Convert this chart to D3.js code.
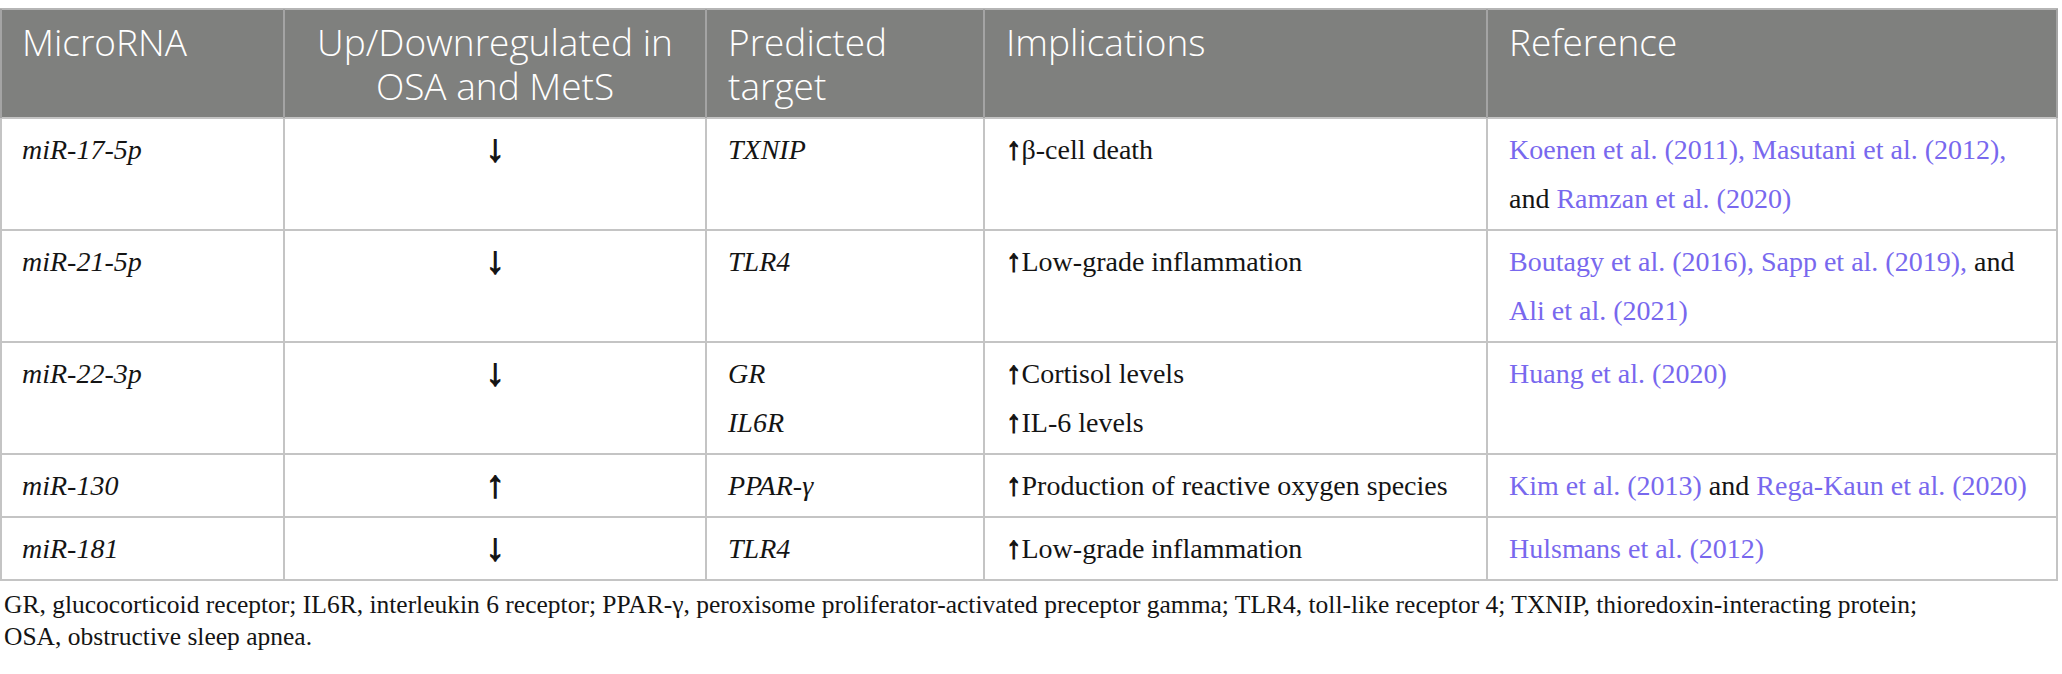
<!DOCTYPE html>
<html>
<head>
<meta charset="utf-8">
<title>MicroRNA table</title>
<script src="https://d3js.org/d3.v7.min.js"></script>
<style>
  body { margin: 0; background: #fff; }
  svg { display: block; }
  .head { font-family: "Open Sans", sans-serif; font-weight: 300; fill: #fff; }
  .cell { font-family: "Liberation Serif", serif; fill: #141414; }
  .link { fill: #7868ee; }
  .arrow { font-weight: bold; stroke: #141414; }
</style>
</head>
<body>
<div id="table"></div>
<script>
// table content
var headers = [["MicroRNA"], ["Up/Downregulated in", "OSA and MetS"], ["Predicted", "target"], ["Implications"], ["Reference"]];
var mirnas = ["miR-17-5p", "miR-21-5p", "miR-22-3p", "miR-130", "miR-181"];
var regulation = ["\u2193", "\u2193", "\u2193", "\u2191", "\u2193"];
var targets = [["TXNIP"], ["TLR4"], ["GR", "IL6R"], ["PPAR-\u03b3"], ["TLR4"]];
var implications = [["\u03b2-cell death"], ["Low-grade inflammation"], ["Cortisol levels", "IL-6 levels"],
                    ["Production of reactive oxygen species"], ["Low-grade inflammation"]];
// each reference line is a list of [text, isLink]
var references = [
  [[["Koenen et al. (2011), Masutani et al. (2012),", 1]], [["and ", 0], ["Ramzan et al. (2020)", 1]]],
  [[["Boutagy et al. (2016), Sapp et al. (2019),", 1], [" and", 0]], [["Ali et al. (2021)", 1]]],
  [[["Huang et al. (2020)", 1]]],
  [[["Kim et al. (2013)", 1], [" and ", 0], ["Rega-Kaun et al. (2020)", 1]]],
  [[["Hulsmans et al. (2012)", 1]]]
];
var footnote = ["GR, glucocorticoid receptor; IL6R, interleukin 6 receptor; PPAR-\u03b3, peroxisome proliferator-activated preceptor gamma; TLR4, toll-like receptor 4; TXNIP, thioredoxin-interacting protein;",
                "OSA, obstructive sleep apnea."];

var width = 2062, height = 674;
var colw = [284, 422, 278, 503, 571];
var lineH = 49, pad = 7, padX = 22,
    headTop = 9, headH = 109, headLine = 44;

var colx = [0].concat(Array.from(d3.cumsum(colw)));
var x = d3.scaleOrdinal().domain(d3.range(colw.length + 1)).range(colx);

var rows = mirnas.map(function(m, i) {
  return {
    i: i,
    lines: Math.max(1, targets[i].length, implications[i].length, references[i].length)
  };
});
var rowy = [headTop + headH].concat(Array.from(d3.cumsum(rows, function(r) { return r.lines * lineH + 2 * pad; }))
    .map(function(v) { return v + headTop + headH; }));
var y = d3.scaleOrdinal().domain(d3.range(rows.length + 1)).range(rowy);

var svg = d3.select("#table").append("svg")
    .attr("width", width)
    .attr("height", height);

// header band
svg.append("rect")
    .attr("x", x(0)).attr("y", headTop)
    .attr("width", x(colw.length) - x(0)).attr("height", headH)
    .attr("fill", "#7f807e");

// grid lines
function edge(d) { return x(d) + (d === 0 ? 1 : d === colw.length ? -1 : 0); }
var grid = svg.append("g").attr("stroke-width", 2).attr("fill", "none");
grid.append("line")
    .attr("x1", x(0)).attr("x2", x(colw.length))
    .attr("y1", headTop).attr("y2", headTop)
    .attr("stroke", "#b5b5b5");
grid.selectAll(".hl").data(d3.range(rows.length + 1)).join("line")
    .attr("x1", x(0)).attr("x2", x(colw.length))
    .attr("y1", function(d) { return y(d); }).attr("y2", function(d) { return y(d); })
    .attr("stroke", "#c4c4c4");
grid.selectAll(".vh").data(d3.range(colw.length + 1)).join("line")
    .attr("x1", edge).attr("x2", edge)
    .attr("y1", headTop).attr("y2", headTop + headH)
    .attr("stroke", "#a4a4a4");
grid.selectAll(".vb").data(d3.range(colw.length + 1)).join("line")
    .attr("x1", edge).attr("x2", edge)
    .attr("y1", headTop + headH).attr("y2", y(rows.length))
    .attr("stroke", "#c4c4c4");

// header text, one text per line
var hs = 37;
headers.forEach(function(lines, c) {
  var centred = c === 1;
  svg.append("g").selectAll("text").data(lines).join("text")
      .attr("class", "head")
      .attr("font-size", hs)
      .attr("text-anchor", centred ? "middle" : "start")
      .attr("x", centred ? (x(c) + x(c + 1)) / 2 : x(c) + padX)
      .attr("y", function(l, k) { return headTop + 47 + k * headLine; })
      .text(function(l) { return l; });
});

// body text
var fs = 28;
function base(r, k) { return y(r) + pad + lineH / 2 + k * lineH + 9.5; }

var body = svg.append("g").attr("class", "cell").attr("font-size", fs);

body.selectAll(".mir").data(rows).join("text")
    .attr("x", x(0) + padX)
    .attr("y", function(d) { return base(d.i, 0); })
    .attr("font-style", "italic")
    .text(function(d) { return mirnas[d.i]; });

body.selectAll(".reg").data(rows).join("text")
    .attr("class", "arrow")
    .attr("font-size", 38)
    .attr("stroke-width", 1.3)
    .attr("x", (x(1) + x(2)) / 2)
    .attr("y", function(d) { return base(d.i, 0) + 2; })
    .attr("text-anchor", "middle")
    .text(function(d) { return regulation[d.i]; });

rows.forEach(function(d) {
  targets[d.i].forEach(function(t, k) {
    body.append("text")
        .attr("x", x(2) + padX).attr("y", base(d.i, k))
        .attr("font-style", "italic")
        .text(t);
  });
  implications[d.i].forEach(function(t, k) {
    var tx = body.append("text").attr("x", x(3) + padX).attr("y", base(d.i, k));
    tx.append("tspan").attr("class", "arrow")
        .attr("font-size", 31).attr("stroke-width", 1.1)
        .text("\u2191");
    tx.append("tspan").text(t);
  });
  references[d.i].forEach(function(line, k) {
    var tx = body.append("text").attr("x", x(4) + padX).attr("y", base(d.i, k))
        .attr("xml:space", "preserve");
    line.forEach(function(seg) {
      tx.append("tspan").attr("class", seg[1] ? "link" : null).text(seg[0]);
    });
  });
});

// footnote
svg.append("g").attr("class", "cell").attr("font-size", 25.5)
  .selectAll("text").data(footnote).join("text")
    .attr("x", 4)
    .attr("y", function(d, k) { return y(rows.length) + 33 + k * 32; })
    .text(function(d) { return d; });
</script>
</body>
</html>
